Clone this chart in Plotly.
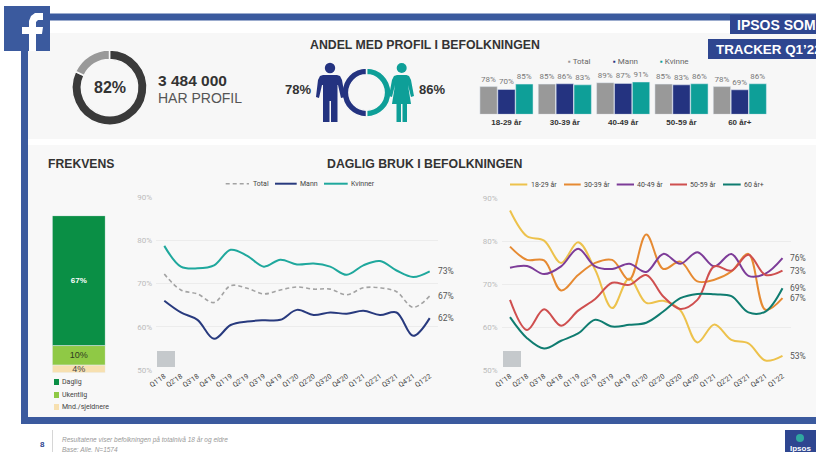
import plotly.graph_objects as go

W, H = 816, 452
quarters = ["Q1'18","Q2'18","Q3'18","Q4'18","Q1'19","Q2'19","Q3'19","Q4'19","Q1'20","Q2'20","Q3'20","Q4'20","Q1'21","Q2'21","Q3'21","Q4'21","Q1'22"]
total = [72.2,68.5,67.6,65.6,69.5,68.9,67.6,68.5,69.2,68.7,68.7,67.4,69,69,68.1,64.5,67.1]
mann = [66,63.3,61.6,57.2,60.4,61.2,61.5,61.6,63.9,62.7,63.3,63,63.7,62.7,63.3,57.9,62]
kvinner = [78.7,73.9,73.5,74.2,77.8,76.4,73.9,75.5,74.4,74.6,73.9,72,74.2,75.2,73,71.5,72.8]
a18 = [87.1,81.1,80.1,74.9,79.7,73.3,64.4,71.3,65.6,66.1,63.9,56.4,60.6,57,56.2,52.2,53.3]
a30 = [78.7,75.6,75.5,68.5,72.1,74.9,75.6,71,81.5,73.5,75.2,70.6,71,72.9,77,64,66.7]
a40 = [73.8,74.2,72.3,74.1,78.2,74.1,73.5,74.7,72.8,77,74.7,77.4,74.1,77,71.9,72.4,76]
a50 = [66.3,59.3,64.1,60.3,63.8,66.5,70.3,69.8,72.1,67.1,64.2,66.3,74.1,73.1,76.8,72.1,73.1]
a60 = [62.3,57.4,55,56.8,58.5,61.7,60.1,60.5,61,63.6,66.7,67.7,67.6,67.2,63.4,63.6,69]
age_groups = ["18-29 år","30-39 år","40-49 år","50-59 år","60 år+"]
bar_total = [78,85,89,85,78]
bar_mann = [70,86,87,83,69]
bar_kvinne = [85,83,91,86,86]
freq_names = ["Daglig","Ukentlig","Mnd./sjeldnere"]
freq_values = [67,10,4]
profile_share = [82,18]
gender_ring = [50,50]
y_ticks = [50,60,70,80,90]
y_tick_text = ["50%","60%","70%","80%","90%"]

BLUE="#3b5a9e"; NAVY="#243380"; TEAL="#0e9f98"; LINE_TEAL="#1fa89d"; GREY="#999999"
SANS="Liberation Sans, Arial, sans-serif"; SMALL="Roboto, Arial, sans-serif"
FREQ_COLORS=["#0a8f45","#8fc945","#f7e0b0"]

def fx(x): return x/W
def fy(y): return 1-y/H
def dom_x(a,b): return [fx(a),fx(b)]
def dom_y(top,bottom): return [fy(bottom),fy(top)]

fig = go.Figure()

def line(x_ax,y_ax,name,vals,color,dash="solid",width=2.0):
    fig.add_trace(go.Scatter(x=quarters,y=vals,name=name,mode="lines",xaxis=x_ax,yaxis=y_ax,showlegend=False,
        line=dict(color=color,width=width,shape="spline",smoothing=1.0,dash=dash),hoverinfo="skip"))

left_series=[("Total",total,"#a3a3a3","4px,3px",1.6,225.7,249,251.7),
             ("Mann",mann,"#283a7e","solid",2.0,275,296.7,299),
             ("Kvinner",kvinner,LINE_TEAL,"solid",2.0,324,347.7,350)]
right_series=[("18-29 år",a18,"#edc24c",510,527.3,530),
              ("30-39 år",a30,"#e68a32",564,580.7,582.7),
              ("40-49 år",a40,"#7d3c98",616.7,634,636),
              ("50-59 år",a50,"#cf4f4f",670,687,689),
              ("60 år+",a60,"#0f7c70",723,740.7,742.7)]
for nm,vals,col,dash,w,_,_,_ in left_series:
    line("x","y",nm,vals,col,dash,w)
for nm,vals,col,_,_,_ in right_series:
    line("x2","y2",nm,vals,col)

for name,vals,col in [("Total",bar_total,GREY),("Mann",bar_mann,NAVY),("Kvinne",bar_kvinne,TEAL)]:
    fig.add_trace(go.Bar(x=age_groups,y=vals,name=name,marker_color=col,xaxis="x3",yaxis="y3",showlegend=False,
        text=[f"{v}%" for v in vals],textposition="outside",cliponaxis=False,
        textfont=dict(size=8,color="#777777",family=SMALL),hoverinfo="skip"))

base=0
for name,v,col,tc,fs in reversed(list(zip(freq_names,freq_values,FREQ_COLORS,["white","#2f3b20","#444444"],[8,9,9]))):
    fig.add_trace(go.Bar(x=["Frekvens"],y=[v],base=[base],name=name,marker_color=col,xaxis="x4",yaxis="y4",showlegend=False,
        width=1,offsetgroup="freq",text=[f"<b>{v}%</b>" if v==freq_values[0] else f"{v}%"],textposition="inside",insidetextanchor="middle",textangle=0,
        constraintext="none",insidetextfont=dict(size=fs,color=tc,family=SANS),hoverinfo="skip"))
    base+=v

def pie(vals,colors,cx,cy,r,hole,rotation=0):
    fig.add_trace(go.Pie(values=vals,marker=dict(colors=colors,line=dict(color="#f7f7f7",width=1.5)),hole=hole,sort=False,
        direction="clockwise",rotation=rotation,textinfo="none",showlegend=False,hoverinfo="skip",
        domain=dict(x=dom_x(cx-r,cx+r),y=dom_y(cy-r,cy+r))))
pie(profile_share,["#3a3a3a","#999999"],109.5,87.5,37.5,0.75)
pie(gender_ring,[TEAL,NAVY],366.5,92.5,24.5,0.72)

def axis_line(dom,anchor):
    return dict(domain=dom,anchor=anchor,type="category",range=[-0.5,16.5],tickangle=-35,showgrid=False,zeroline=False,
        tickfont=dict(size=7,color="#444444",family=SMALL),ticks="",automargin=False)
def axis_y(dom,anchor):
    return dict(domain=dom,anchor=anchor,range=[50,90],tickvals=y_ticks,ticktext=y_tick_text,gridcolor="#ececec",gridwidth=1,
        zeroline=False,tickfont=dict(size=8,color="#bbbbbb",family=SMALL),automargin=False,ticklabelstandoff=3)

def rect(x0,y0,x1,y1,color,layer="below"):
    return dict(type="rect",xref="paper",yref="paper",x0=fx(x0),x1=fx(x1),y0=fy(y0),y1=fy(y1),fillcolor=color,line=dict(width=0),layer=layer)
def poly(pts,color):
    p="M "+" L ".join(f"{fx(x):.5f},{fy(y):.5f}" for x,y in pts)+" Z"
    return dict(type="path",xref="paper",yref="paper",path=p,fillcolor=color,line=dict(width=0),layer="above")
def circ(cx,cy,r,color):
    return dict(type="circle",xref="paper",yref="paper",x0=fx(cx-r),x1=fx(cx+r),y0=fy(cy+r),y1=fy(cy-r),fillcolor=color,line=dict(width=0),layer="above")
def sample(x0,x1,y,color,width=2.0,dash="solid"):
    return dict(type="line",xref="paper",yref="paper",x0=fx(x0),x1=fx(x1),y0=fy(y),y1=fy(y),line=dict(color=color,width=width,dash=dash),layer="above")

man=[(323,75),(337,75),(340,76),(342,80),(345,97),(341,98),(338,85),(337.5,85),(337.5,122),(331,122),(331,101),(329.5,101),(329.5,122),(323,122),(323,85),(322,85),(319,98),(316,97),(318,80),(320,76)]
woman=[(397,75),(406.5,75),(409,76),(411,80),(414,96),(411,97),(408,85),(411,104),(407,104),(407,122),(402.5,122),(402.5,104),(401,104),(401,122),(396.5,122),(396.5,104),(392,104),(395,85),(392,97),(389,96),(392,80),(394,76)]
f_glyph=[(29,51),(29,34),(22,34),(22,27),(29,27),(29,21),(31,16),(35,13),(43,13),(43,20),(38,20),(36,22),(36,27),(43,27),(42,34),(36,34),(36,51)]

shapes=[
    rect(28,33,816,139,"#f7f7f7"),
    rect(28,145,816,417,"#f8f8f8"),
    rect(48,13.5,816,20.5,BLUE),
    rect(21,45,28,424,BLUE),
    rect(21,417,816,424,BLUE),
    rect(730,15,816,34,"#2e4690"),
    rect(708,39,816,59,"#2e4690"),
    rect(157,351,175,367,"#c5c9cc","above"),
    rect(503,351,521,367,"#c5c9cc","above"),
    rect(4,6,50,51,BLUE),
    poly(f_glyph,"white"),
    circ(330,68,5.2,NAVY),poly(man,NAVY),
    circ(401.7,68,5,TEAL),poly(woman,TEAL),
    rect(52.2,430,52.8,452,"#bbbbbb"),
    rect(785,430,816,452,"#2e4690","above"),
    circ(800,438,4,"#2fa8a0"),
]
for col,y in zip(FREQ_COLORS,[382,395,407]):
    shapes.append(rect(54,y-3,59,y+3,col))

def note(x,y,text,size=8,color="#333333",bold=False,anchor="left",family=SANS,italic=False):
    t=f"<b>{text}</b>" if bold else text
    t=f"<i>{t}</i>" if italic else t
    if anchor=="left": x-=2
    return dict(xref="paper",yref="paper",x=fx(x),y=fy(y),text=t,showarrow=False,xanchor=anchor,yanchor="middle",
        font=dict(size=size,color=color,family=family),align=anchor)

ann=[
    note(424.5,45,"ANDEL MED PROFIL I BEFOLKNINGEN",12.3,"#333333",True,"center"),
    note(81,164,"FREKVENS",12.2,"#333333",True,"center"),
    note(425,164,"DAGLIG BRUK I BEFOLKNINGEN",12.3,"#333333",True,"center"),
    note(109.5,88,"82%",16,"#333333",True,"center"),
    note(158,80,"3 484 000",15.5,"#333333",True),
    note(158,98,"HAR PROFIL",14,"#555555"),
    note(298,90,"78%",13,"#333333",True,"center"),
    note(432,90,"86%",13,"#333333",True,"center"),
    note(737,25,"IPSOS SOME",14,"white",True),
    note(716,49.5,"TRACKER Q1’22",13.4,"white",True),
    note(800,448,"Ipsos",8,"white",True,"center"),
    note(42,444,"8",8,"#2e4690",True,"center"),
    note(62,439.5,"Resultatene viser befolkningen på totalnivå 18 år og eldre",6.5,"#999999",italic=True),
    note(62,449,"Base: Alle, N=1574",6.5,"#999999",italic=True),
]
for nm,col,x in [("Total",GREY,568),("Mann",NAVY,613),("Kvinne",TEAL,660)]:
    ann.append(note(x,61,f"<span style='color:{col}'>▪</span> {nm}",8,"#666666",family=SMALL))
for nm,y in zip(freq_names,[382,395,407]):
    ann.append(note(62,y,nm,7,"#444444",family=SMALL))

for nm,_,col,dash,w,x0,x1,tx in left_series:
    shapes.append(sample(x0,x1,183.7,col,w,dash))
    ann.append(note(tx+1,183.7,nm,7,"#444444",family=SMALL))
for nm,_,col,x0,x1,tx in right_series:
    shapes.append(sample(x0,x1,184.5,col))
    ann.append(note(tx+1,184.5,nm,7,"#444444",family=SMALL))

for xa,ya,v,lab in [("x","y",kvinner[-1],"73%"),("x","y",total[-1],"67%"),("x","y",mann[-1],"62%"),
                ("x2","y2",a40[-1],"76%"),("x2","y2",a50[-1],"73%"),("x2","y2",a60[-1],"69%"),("x2","y2",a30[-1],"67%"),("x2","y2",a18[-1],"53%")]:
    ann.append(dict(xref=xa,yref=ya,x=quarters[-1],y=v,text=lab,showarrow=False,xanchor="left",xshift=6,
        font=dict(size=8.5,color="#555555",family=SMALL)))

fig.update_layout(
    width=W,height=H,autosize=False,margin=dict(l=0,r=0,t=0,b=0),paper_bgcolor="white",plot_bgcolor="rgba(0,0,0,0)",
    font=dict(family=SANS),barmode="group",bargap=0.08,bargroupgap=0.03,shapes=shapes,annotations=ann,showlegend=False,
    xaxis=axis_line(dom_x(156,438),"y"),yaxis=axis_y(dom_y(197,370),"x"),
    xaxis2=axis_line(dom_x(501.5,791),"y2"),yaxis2=axis_y(dom_y(198,370),"x2"),
    xaxis3=dict(domain=dom_x(477.3,769),anchor="y3",type="category",showgrid=False,zeroline=False,ticks="",
        tickfont=dict(size=8,color="#333333",family=SANS,weight="bold"),showline=False,automargin=False,ticklabelstandoff=2),
    yaxis3=dict(domain=dom_y(78.8,114.3),anchor="x3",range=[0,100],visible=False),
    xaxis4=dict(domain=dom_x(52.3,105.3),anchor="y4",type="category",range=[-0.5,0.5],visible=False),
    yaxis4=dict(domain=dom_y(215.7,372.7),anchor="x4",range=[0,81],visible=False),
)
fig.write_html("out.html",config=dict(displayModeBar=False),post_script="document.body.style.margin='0';document.body.style.overflow='hidden';")
